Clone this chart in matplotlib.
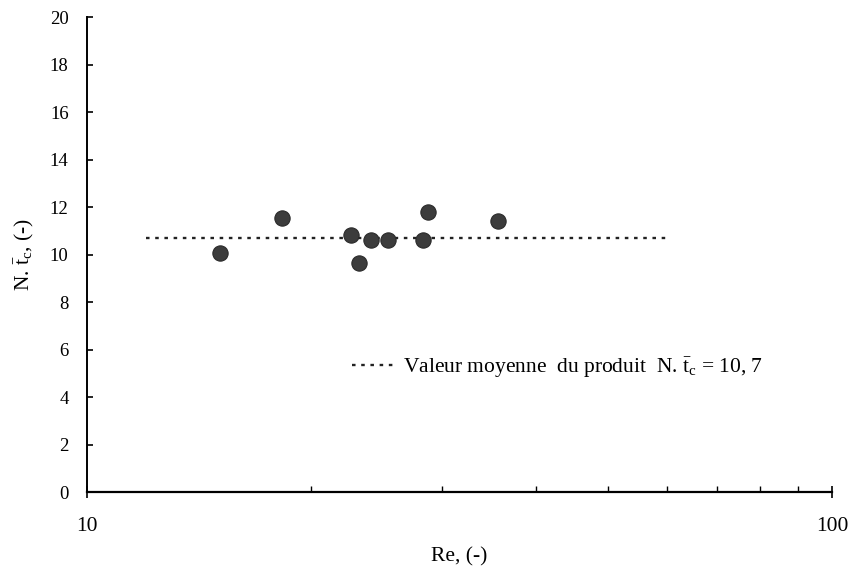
import matplotlib
matplotlib.use("Agg")
import matplotlib.pyplot as plt
from matplotlib.ticker import FixedLocator, LogLocator, NullFormatter

plt.rcParams['font.family'] = ['Liberation Serif', 'DejaVu Serif']
plt.rcParams['mathtext.fontset'] = 'custom'
plt.rcParams['mathtext.rm'] = 'Liberation Serif'
plt.rcParams['mathtext.it'] = 'Liberation Serif:italic'

# Data
re_values = [15.1, 18.3, 22.6, 23.2, 24.1, 25.4, 28.3, 28.7, 35.6]
nt_values = [10.06, 11.54, 10.82, 9.64, 10.61, 10.61, 10.61, 11.79, 11.41]
mean_value = 10.7
mean_x_range = [12.0, 60.0]
y_ticks = list(range(0, 21, 2))
x_ticks = [10, 100]
x_tick_labels = ["10", "100"]

fig = plt.figure(figsize=(8.5, 5.75), dpi=100)
ax = fig.add_axes([0.102, 0.144, 0.877, 0.826])

ax.plot(mean_x_range, [mean_value, mean_value], color='#222222', lw=1.7,
        linestyle=(0, (1.5, 2.4)),
        label=r"Valeur moyenne  du produit  N. $\mathrm{\bar{t}_c}$ = 10, 7")
ax.plot(re_values, nt_values, 'o', color='#3c3c3c', markersize=11,
        markeredgecolor='#2a2a2a', markeredgewidth=0.8, zorder=3)

ax.set_xscale('log')
ax.set_xlim(10, 100)
ax.set_ylim(0, 20)
ax.xaxis.set_major_locator(FixedLocator(x_ticks))
ax.set_xticklabels(x_tick_labels)
ax.xaxis.set_minor_locator(LogLocator(base=10, subs=range(2, 10)))
ax.xaxis.set_minor_formatter(NullFormatter())
ax.set_yticks(y_ticks)

for s in ['top', 'right']:
    ax.spines[s].set_visible(False)
ax.spines['left'].set_linewidth(1.4)
ax.spines['bottom'].set_linewidth(1.6)

ax.tick_params(axis='y', direction='in', length=4, width=1.2, labelsize=13.5, pad=13)
ax.tick_params(axis='x', which='major', direction='inout', length=8, width=1.2,
               labelsize=15.5, pad=14)
ax.tick_params(axis='x', which='minor', direction='in', length=4, width=1.0)

ax.set_xlabel("Re, (-)", fontsize=15.5, labelpad=8)
ax.set_ylabel(r"N. $\mathrm{\bar{t}_c}$, (-)", fontsize=15.5, labelpad=10)

ax.legend(loc='center left', bbox_to_anchor=(0.33, 0.262), frameon=False,
          fontsize=15.5, handlelength=1.9, handletextpad=0.45)

fig.savefig("out.png", dpi=100)
